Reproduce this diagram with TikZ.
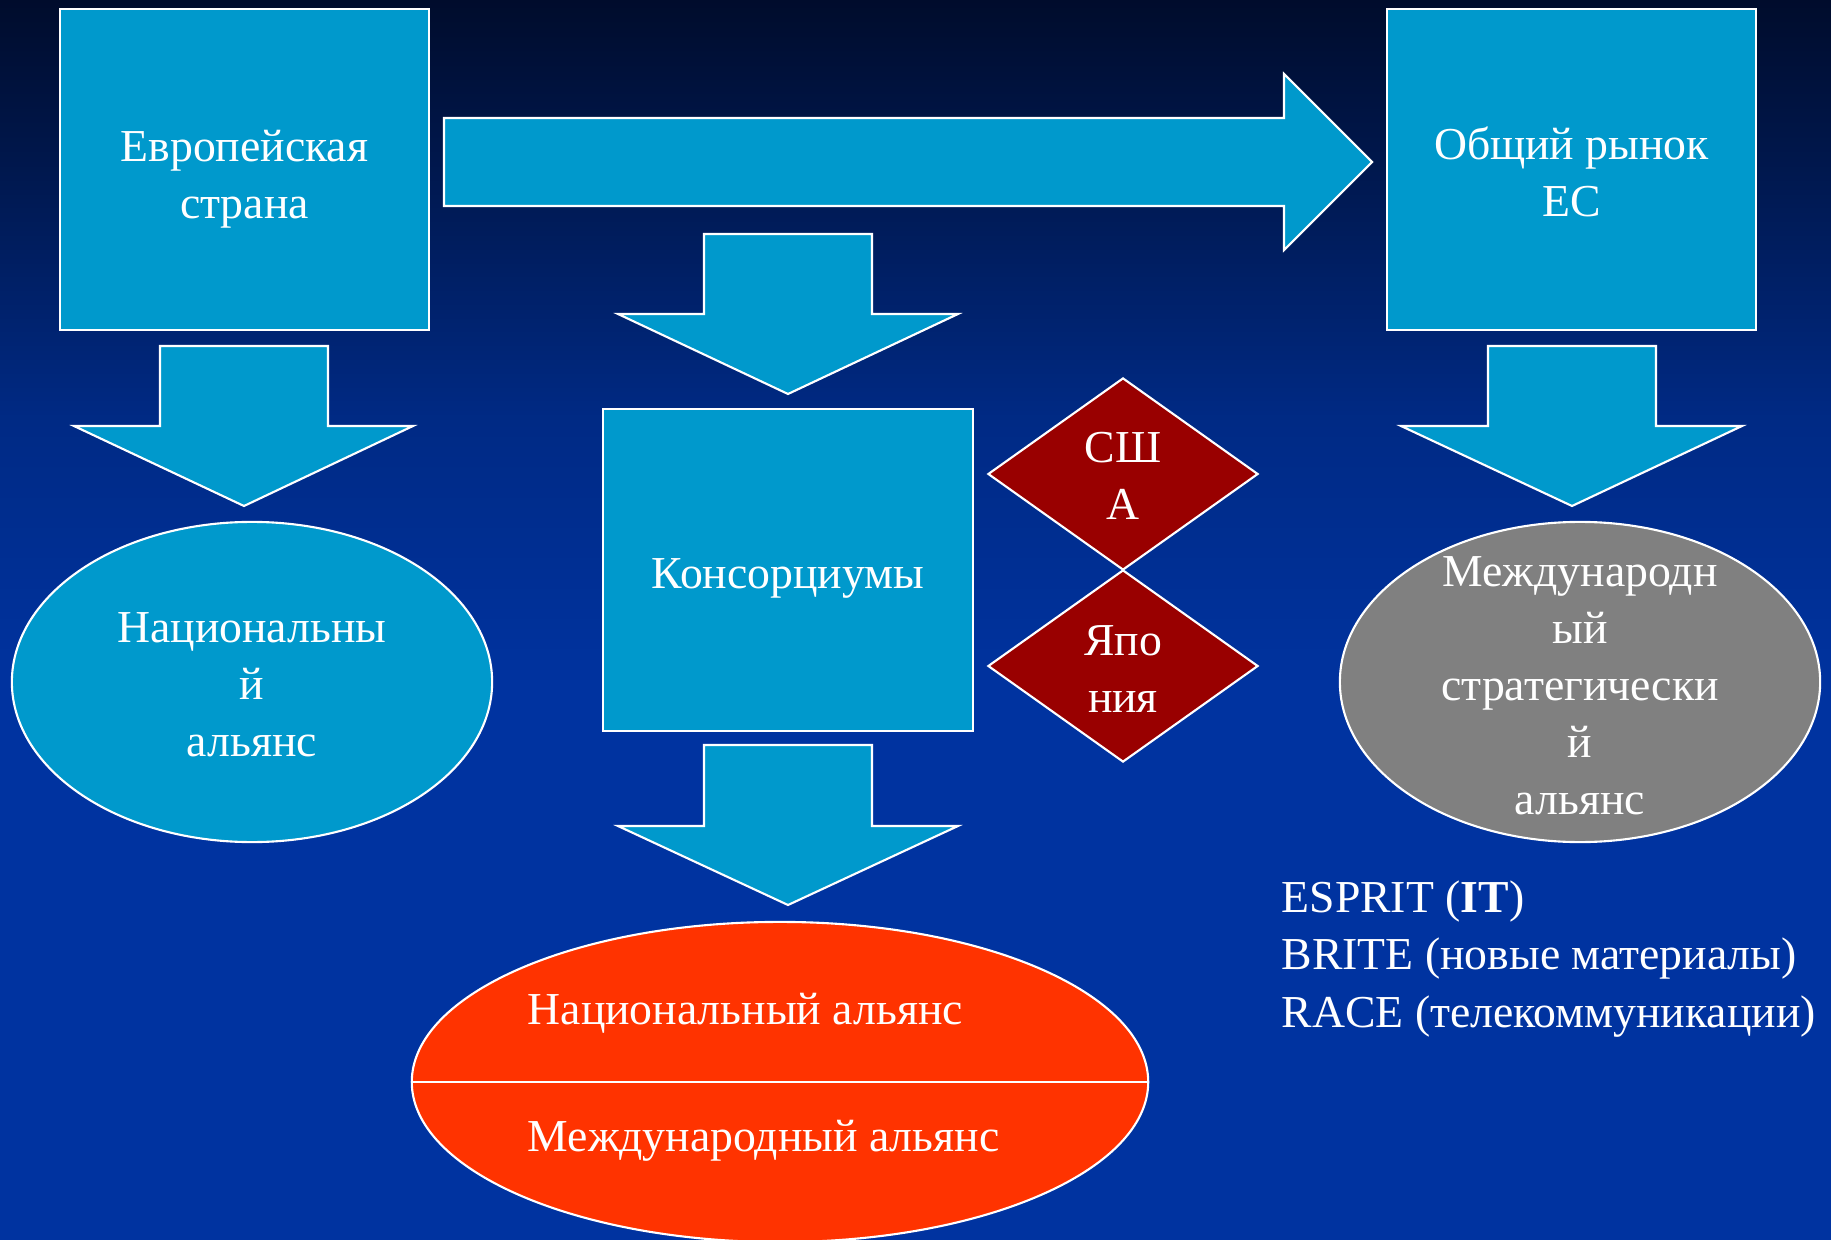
\documentclass[tikz,border=0pt]{standalone}
\usepackage{fontspec}
\setmainfont{Liberation Serif}
\usetikzlibrary{shapes.geometric}
\definecolor{cyanbox}{HTML}{0099CC}
\definecolor{darkred}{HTML}{990000}
\definecolor{redell}{HTML}{FF3300}
\definecolor{greyell}{HTML}{808080}
\definecolor{bgA}{HTML}{000C2C}
\definecolor{bgB}{HTML}{00184F}
\definecolor{bgC}{HTML}{002A85}
\definecolor{bgD}{HTML}{0033A0}
\pgfdeclareverticalshading{bgshade}{100bp}{color(0bp)=(bgD); color(25bp)=(bgD); color(47bp)=(bgD); color(58bp)=(bgC); color(68bp)=(bgB); color(75bp)=(bgA); color(100bp)=(bgA)}
\newcommand\mainsz{\fontsize{13}{16.2}\selectfont}
\begin{document}
\begin{tikzpicture}[x=0.01cm,y=-0.01cm,
  outl/.style={draw=white, line width=0.6pt},
  box/.style={outl, fill=cyanbox, minimum width=3.69cm, minimum height=3.21cm, inner sep=0pt},
  blockarrow/.style={outl, fill=cyanbox, line join=miter},
  ell/.style={outl, ellipse, minimum width=4.8cm, minimum height=3.2cm, inner sep=0pt},
  dia/.style={outl, diamond, fill=darkred, minimum width=2.7cm, minimum height=1.92cm, inner sep=0pt},
  txt/.style={text=white, align=center, font=\mainsz, inner sep=0pt}
]
\useasboundingbox (0,0) rectangle (1831,1240);
\shade[shading=bgshade] (0,0) rectangle (1831,1240);

% boxes
\node[box] (eu) at (244.5,169.5) {};
\node[txt] (eut) at (244.5,179) {Европейская\\страна};
\node[box] (ec) at (1571.5,169.5) {};
\node[txt] (ect) at (1571.5,172) {Общий рынок\\ЕС};
\node[box] (cons) at (788,570) {};
\node[txt] (const) at (788,578) {Консорциумы};

% big right arrow
\draw[blockarrow] (444,118) -- (1284,118) -- (1284,74) -- (1372,162) -- (1284,250) -- (1284,206) -- (444,206) -- cycle;

% down arrows
\draw[blockarrow] (160,346) -- (328,346) -- (328,426) -- (413,426) -- (244,506) -- (74,426) -- (160,426) -- cycle;
\draw[blockarrow] (704,234) -- (872,234) -- (872,314) -- (958,314) -- (788,394) -- (618,314) -- (704,314) -- cycle;
\draw[blockarrow] (1488,346) -- (1656,346) -- (1656,426) -- (1742,426) -- (1572,506) -- (1401,426) -- (1488,426) -- cycle;
\draw[blockarrow] (704,745) -- (872,745) -- (872,826) -- (958,826) -- (788,905) -- (618,826) -- (704,826) -- cycle;

% ellipses
\node[ell, fill=cyanbox] (nat) at (252,682) {};
\node[txt] (natt) at (252,685) {Национальны\\й\\альянс};
\node[ell, fill=greyell] (intl) at (1580,682) {};
\node[txt] (intlt) at (1580,686) {Международн\\ый\\стратегически\\й\\альянс};

% diamonds
\node[dia] (usa) at (1123,474) {};
\node[txt] (usat) at (1123,476) {СШ\\А};
\node[dia] (jp) at (1123,666) {};
\node[txt] (jpt) at (1123,669) {Япо\\ния};

% red ellipse
\node[ell, fill=redell, minimum width=7.36cm] (red) at (780,1082) {};
\draw[outl] (red.west) -- (red.east);
\node[txt, anchor=west] (redt1) at (527,1013) {Национальный альянс};
\node[txt, anchor=west] (redt2) at (527,1141) {Международный альянс};

% programmes
\node[txt, anchor=base west] (p1) at (1281,912) {ESPRIT (\textbf{IT})};
\node[txt, anchor=base west] (p2) at (1281,969) {BRITE (новые материалы)};
\node[txt, anchor=base west] (p3) at (1281,1027) {RACE (телекоммуникации)};
\end{tikzpicture}
\end{document}
